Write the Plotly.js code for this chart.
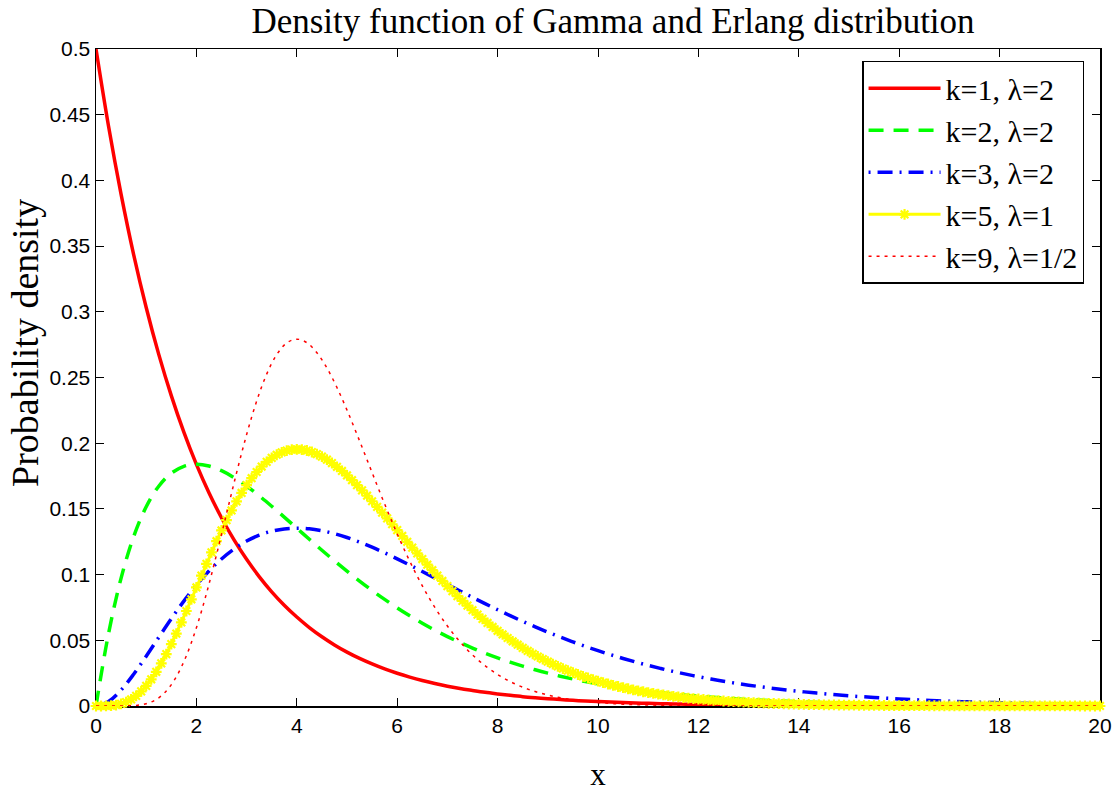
<!DOCTYPE html>
<html>
<head>
<meta charset="utf-8">
<script src="https://cdn.plot.ly/plotly-3.0.1.min.js"></script>
<style>html,body{margin:0;padding:0;background:#fff;}#chart{width:1115px;height:794px;}</style>
</head>
<body>
<div id="chart"></div>
<script>
// Series names (legend labels)
const seriesNames = ['k=1, \u03bb=2', 'k=2, \u03bb=2', 'k=3, \u03bb=2', 'k=5, \u03bb=1', 'k=9, \u03bb=1/2'];

// Sampling grids (start, step)
const gridA = {x0: 0, dx: 0.25};   // k=1, k=2, k=3 curves
const gridYellow = {x0: 0, dx: 0.1}; // k=5 curve (one marker per sample)
const gridDotted = {x0: 0, dx: 0.2}; // k=9 curve

// k=1, lambda=2 (solid red)
const redVals = [0.5,0.4412,0.3894,0.3436,0.3033,0.2676,0.2362,0.2084,0.1839,0.1623,
0.1433,0.1264,0.1116,0.0985,0.0869,0.0767,0.0677,0.0597,0.0527,0.0465,
0.0410,0.0362,0.0320,0.0282,0.0249,0.0220,0.0194,0.0171,0.0151,0.0133,
0.0118,0.0104,0.0092,0.0081,0.0071,0.0063,0.0056,0.0049,0.0043,0.0038,
0.0034,0.0030,0.0026,0.0023,0.0020,0.0018,0.0016,0.0014,0.0012,0.0011,
0.0010,0.0009,0.0008,0.0007,0.0006,0.0005,0.00046,0.0004,0.00036,0.00031,
0.00028,0.000244,0.000216,0.00019,0.000168,0.000148,0.00013,0.000115,0.000102,0.00009,
0.000079,0.00007,0.000062,0.000054,0.000048,0.000042,0.000037,0.000033,0.000029,0.000026,
0.000023];

// k=2, lambda=2 (dashed green)
const greenVals = [0,0.05516,0.09735,0.12887,0.15163,0.16727,0.17714,0.18238,0.18394,0.18262,
0.17907,0.17383,0.16735,0.15999,0.15205,0.14377,0.13534,0.12690,0.11857,0.11046,
0.10261,0.09508,0.08790,0.08110,0.07468,0.06865,0.06301,0.05774,0.05284,0.04830,
0.04410,0.04021,0.03663,0.03334,0.03031,0.02754,0.02500,0.02267,0.02055,0.01861,
0.01684,0.01524,0.01378,0.01245,0.01124,0.01014,0.00915,0.00825,0.00744,0.00670,
0.00603,0.00543,0.00488,0.00440,0.00395,0.00355,0.00319,0.00287,0.00257,0.00231,
0.00207,0.00186,0.00167,0.00150,0.00134,0.00120,0.00108,0.00096,0.00086,0.00077,
0.00069,0.00062,0.00055,0.00050,0.00044,0.00040,0.00036,0.00032,0.00028,0.00025,
0.00023];

// k=3, lambda=2 (dash-dot blue)
const blueVals = [0,0.00345,0.01217,0.02416,0.03791,0.05227,0.06643,0.07979,0.09197,0.10272,
0.11192,0.11951,0.12551,0.12999,0.13304,0.13478,0.13534,0.13483,0.13339,0.13117,
0.12826,0.12479,0.12086,0.11658,0.11202,0.10727,0.10239,0.09744,0.09247,0.08754,
0.08269,0.07791,0.07326,0.06876,0.06441,0.06024,0.05625,0.05242,0.04881,0.04536,
0.04210,0.03905,0.03617,0.03346,0.03091,0.02852,0.02631,0.02423,0.02232,0.02052,
0.01884,0.01731,0.01586,0.01458,0.01333,0.01220,0.01117,0.01022,0.00932,0.00852,
0.00776,0.00709,0.00647,0.00591,0.00536,0.00488,0.00446,0.00402,0.00366,0.00332,
0.00302,0.00275,0.00248,0.00228,0.00204,0.00188,0.00171,0.00154,0.00137,0.00123,
0.00115];

// k=5, lambda=1 (yellow with markers)
const yellowVals = [0,0.0000038,0.0000546,0.00025,0.000715,0.00158,0.00296,0.00497,0.00767,0.01112,
0.01533,0.02031,0.02602,0.03243,0.03947,0.04707,0.05513,0.06358,0.07230,0.08122,
0.09022,0.09923,0.10815,0.11690,0.12541,0.13360,0.14142,0.14882,0.15574,0.16215,
0.16803,0.17335,0.17809,0.18225,0.18582,0.18881,0.19122,0.19307,0.19436,0.19512,
0.19537,0.19513,0.19443,0.19329,0.19173,0.18981,0.18753,0.18492,0.18203,0.17888,
0.17547,0.17186,0.16806,0.16411,0.16002,0.15582,0.15153,0.14717,0.14276,0.13831,
0.13385,0.12939,0.12495,0.12053,0.11615,0.11182,0.10755,0.10335,0.09923,0.09518,
0.09123,0.08736,0.08360,0.07993,0.07637,0.07292,0.06957,0.06633,0.06319,0.06017,
0.05725,0.05444,0.05174,0.04914,0.04665,0.04426,0.04196,0.03977,0.03766,0.03566,
0.03374,0.03191,0.03016,0.02850,0.02691,0.02540,0.02397,0.02261,0.02131,0.02008,
0.01892,0.01781,0.01676,0.01577,0.01483,0.01395,0.01311,0.01231,0.01156,0.01086,
0.01019,0.00956,0.00897,0.00841,0.00788,0.00738,0.00692,0.00648,0.00606,0.00567,
0.00531,0.00497,0.00464,0.00434,0.00406,0.00379,0.00354,0.00331,0.00309,0.00288,
0.00269,0.00251,0.00234,0.00218,0.00204,0.00190,0.00177,0.00165,0.00154,0.00143,
0.00133,0.00124,0.00115,0.00107,0.00100,0.00093,0.00086,0.00080,0.00075,0.00069,
0.00065,0.00060,0.00056,0.00052,0.00048,0.00045,0.00041,0.00038,0.00036,0.00033,
0.00031,0.00029,0.00027,0.00025,0.00023,0.00021,0.00020,0.00018,0.00017,0.00016,
0.00014,0.00013,0.00012,0.00012,0.00011,0.00010,0.00009,0.00009,0.00008,0.00007,
0.000067,0.000062,0.000057,0.000053,0.000050,0.000046,0.000043,0.000040,0.000037,0.000034,
0.000030,0.000028,0.000026,0.000024,0.000023,0.000021,0.000019,0.000018,0.000017,0.000016,
0.000014];

// k=9, lambda=1/2 (dotted red)
const dottedVals = [0,0,0.000004,0.000064,0.00043,0.00172,0.00495,0.0114,0.02223,0.03824,
0.05954,0.08555,0.11504,0.14629,0.17741,0.20651,0.23198,0.25256,0.26745,0.27630,
0.27918,0.27650,0.26888,0.25722,0.24236,0.22520,0.20659,0.18729,0.16794,0.14906,
0.13105,0.11419,0.09868,0.08461,0.07202,0.06087,0.05112,0.04266,0.03540,0.02921,
0.02397,0.01958,0.01592,0.01288,0.01038,0.00833,0.00665,0.00530,0.00420,0.00332,
0.00262,0.00206,0.00161,0.00126,0.00098,0.00076,0.00059,0.00045,0.00035,0.00027,
0.00021,0.00016,0.00012,0.000092,0.00007,0.000053,0.00004,0.00003,0.000023,0.000017,
0.000013,0.00001,0.000007,0.000005,0.000004,0.000003,0.000002,0.000002,0.000001,0.000001,
0.000001,0,0,0,0,0,0,0,0,0,
0,0,0,0,0,0,0,0,0,0,
0];

// Axis ticks
const xTickVals = [0,2,4,6,8,10,12,14,16,18,20];
const xTickText = ['0','2','4','6','8','10','12','14','16','18','20'];
const yTickVals = [0,0.05,0.1,0.15,0.2,0.25,0.3,0.35,0.4,0.45,0.5];
const yTickText = ['0','0.05','0.1','0.15','0.2','0.25','0.3','0.35','0.4','0.45','0.5'];

const titleText = 'Density function of Gamma and Erlang distribution';
const xTitleText = 'x';
const yTitleText = 'Probability density';

const serif = 'Liberation Serif, Times New Roman, serif';
const sans = 'Liberation Sans, Arial, sans-serif';

const traces = [
  {y: redVals, x0: gridA.x0, dx: gridA.dx, name: seriesNames[0], mode: 'lines',
   line: {color: '#ff0000', width: 3.5, shape: 'spline'}},
  {y: greenVals, x0: gridA.x0, dx: gridA.dx, name: seriesNames[1], mode: 'lines',
   line: {color: '#00ff00', width: 3.5, dash: '15px,10px', shape: 'spline'}},
  {y: blueVals, x0: gridA.x0, dx: gridA.dx, name: seriesNames[2], mode: 'lines',
   line: {color: '#0000ff', width: 3.5, dash: '2px,7px,15px,7px', shape: 'spline'}},
  {y: yellowVals, x0: gridYellow.x0, dx: gridYellow.dx, name: seriesNames[3], mode: 'lines+markers',
   line: {color: '#ffff00', width: 3},
   marker: {symbol: 'asterisk-open', size: 9, color: '#ffff00', line: {color: '#ffff00', width: 2.2}},
   cliponaxis: false},
  {y: dottedVals, x0: gridDotted.x0, dx: gridDotted.dx, name: seriesNames[4], mode: 'lines',
   line: {color: '#ff0000', width: 1.5, dash: '3px,5px', shape: 'spline'}}
];

const layout = {
  width: 1115, height: 794,
  paper_bgcolor: '#ffffff', plot_bgcolor: '#ffffff',
  margin: {l: 96, r: 15, t: 49, b: 88, pad: 0},
  title: {text: titleText,
          font: {family: serif, size: 35, color: '#000'},
          x: 613/1115, xref: 'container', xanchor: 'center',
          y: 1 - 21/794, yref: 'container', yanchor: 'middle'},
  xaxis: {range: [0, 20], tickvals: xTickVals, ticktext: xTickText,
          ticks: 'inside', ticklen: 8, tickwidth: 1, tickcolor: '#000',
          showline: true, linecolor: '#000', linewidth: 1.5, mirror: 'ticks',
          showgrid: false, zeroline: false, layer: 'below traces',
          tickfont: {family: sans, size: 21, color: '#000'},
          title: {text: xTitleText, font: {family: serif, size: 31, color: '#000'}, standoff: 27}},
  yaxis: {range: [0, 0.5], tickvals: yTickVals, ticktext: yTickText,
          ticks: 'inside', ticklen: 8, tickwidth: 1, tickcolor: '#000',
          showline: true, linecolor: '#000', linewidth: 1.5, mirror: 'ticks',
          showgrid: false, zeroline: false, layer: 'below traces',
          tickfont: {family: sans, size: 21, color: '#000'}},
  annotations: [
    {text: yTitleText, textangle: -90, showarrow: false,
     xref: 'paper', yref: 'paper', x: (25 - 96) / 1004, y: 1 - (343 - 49) / 657,
     xanchor: 'center', yanchor: 'middle',
     font: {family: serif, size: 38, color: '#000'}}
  ],
  legend: {x: 0.763, y: 0.982, xanchor: 'left', yanchor: 'top',
           bgcolor: '#ffffff', bordercolor: '#000', borderwidth: 1.5,
           font: {family: serif, size: 30, color: '#000'},
           itemwidth: 72, traceorder: 'normal'},
  showlegend: true
};

Plotly.newPlot('chart', traces, layout, {displayModeBar: false, staticPlot: true});
</script>
</body>
</html>
